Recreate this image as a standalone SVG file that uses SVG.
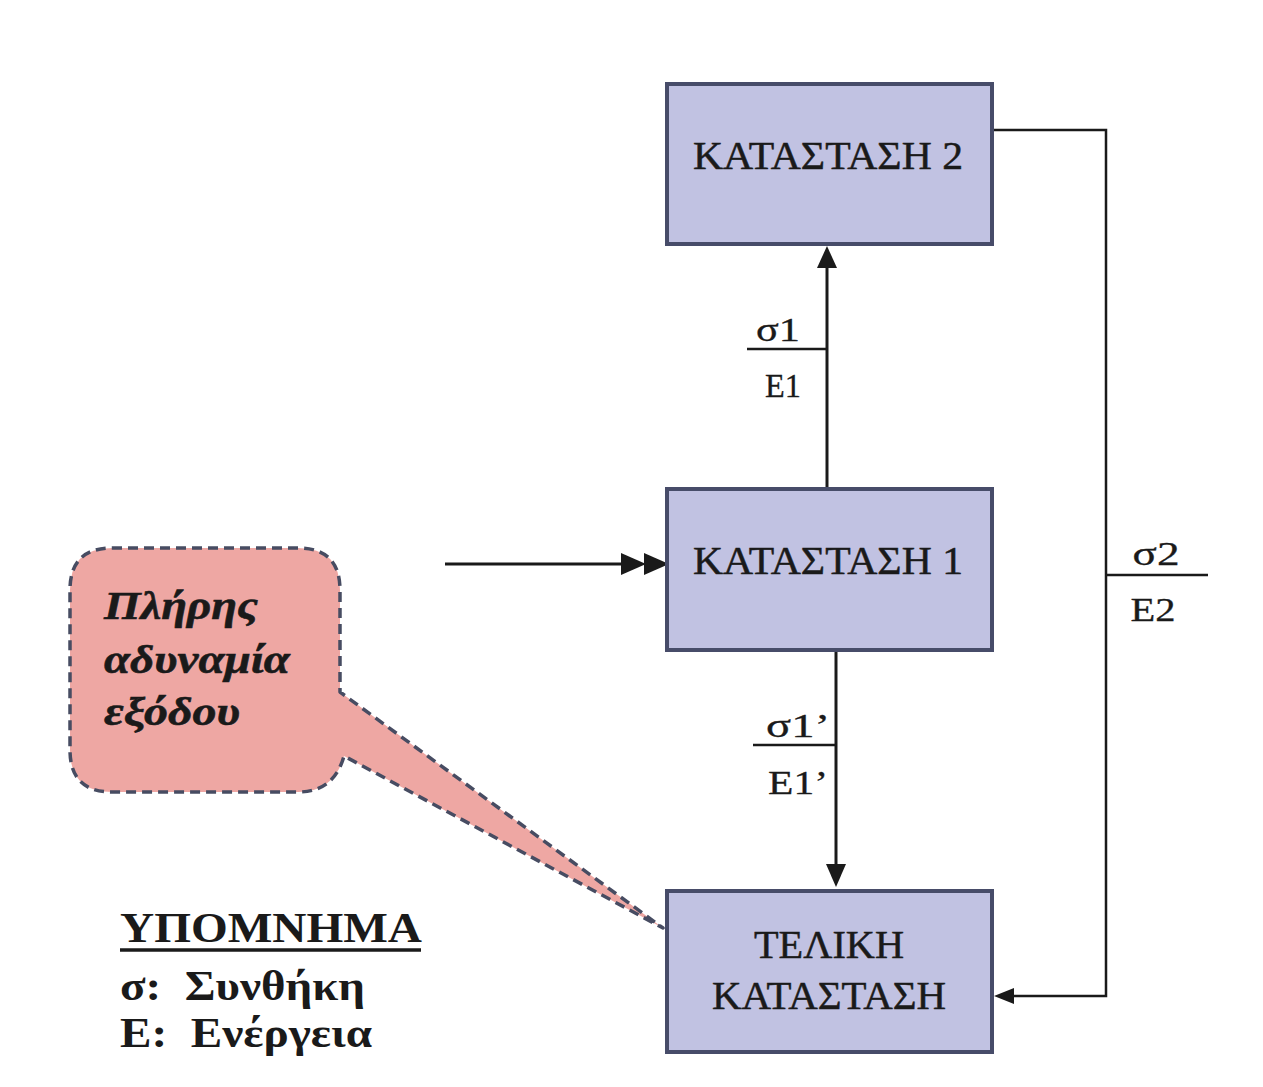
<svg xmlns="http://www.w3.org/2000/svg" width="1263" height="1087" viewBox="0 0 1263 1087">
  <style>
    .state { fill: #c1c2e2; stroke: #474c69; stroke-width: 4; }
    .stxt { font-family: "Liberation Serif", "DejaVu Serif", serif; font-size: 40px; fill: #1a1a1a; stroke: #1a1a1a; stroke-width: 0.5; text-anchor: middle; }
    .lbl { font-family: "Liberation Serif", "DejaVu Serif", serif; font-size: 33px; fill: #1a1a1a; stroke: #1a1a1a; stroke-width: 0.3; text-anchor: middle; }
    .wire { fill: none; stroke: #1a1a1a; stroke-width: 3; }
    .thin { fill: none; stroke: #1a1a1a; stroke-width: 2.5; }
    .note { fill: #eea7a3; stroke: #474c62; stroke-width: 3.5; stroke-dasharray: 10 6; stroke-linejoin: round; }
    .notetxt { font-family: "Liberation Serif", "DejaVu Serif", serif; font-size: 41px; font-weight: bold; font-style: italic; fill: #1a1a1a; stroke: #1a1a1a; stroke-width: 0.6; }
    .legend { font-family: "Liberation Serif", "DejaVu Serif", serif; font-size: 43px; font-weight: bold; fill: #1a1a1a; }
  </style>

  <rect width="1263" height="1087" fill="#ffffff"/>

  <!-- connectors -->
  <g id="connectors">
    <!-- state 1 -> state 2 -->
    <line class="wire" x1="827" y1="488" x2="827" y2="262"/>
    <path d="M817,268 L827,246 L837,268 Z" fill="#1a1a1a"/>
    <line class="thin" x1="747" y1="349" x2="827" y2="349"/>
    <text class="lbl" x="778" y="341" textLength="44" lengthAdjust="spacingAndGlyphs">σ1</text>
    <text class="lbl" x="783" y="397" textLength="36" lengthAdjust="spacingAndGlyphs">Ε1</text>

    <!-- state 1 -> final state -->
    <line class="wire" x1="836" y1="651" x2="836" y2="868"/>
    <path d="M826,864 L836,887 L846,864 Z" fill="#1a1a1a"/>
    <line class="thin" x1="753" y1="745" x2="836" y2="745"/>
    <text class="lbl" x="798" y="737" textLength="64" lengthAdjust="spacingAndGlyphs">σ1’</text>
    <text class="lbl" x="798" y="794" textLength="60" lengthAdjust="spacingAndGlyphs">Ε1’</text>

    <!-- state 2 -> final state (loop on the right) -->
    <polyline class="thin" points="992,130 1106,130 1106,996 1012,996"/>
    <path d="M1014,988 L994,996 L1014,1004 Z" fill="#1a1a1a"/>
    <line class="thin" x1="1106" y1="575" x2="1208" y2="575"/>
    <text class="lbl" x="1156" y="565" textLength="47" lengthAdjust="spacingAndGlyphs">σ2</text>
    <text class="lbl" x="1153" y="621" textLength="45" lengthAdjust="spacingAndGlyphs">Ε2</text>

    <!-- initial entry arrow -->
    <line class="wire" x1="445" y1="564" x2="625" y2="564"/>
    <path d="M621,553 L646,564 L621,575 Z" fill="#1a1a1a"/>
    <path d="M644,553 L669,564 L644,575 Z" fill="#1a1a1a"/>
  </g>

  <!-- states -->
  <g id="state2">
    <rect class="state" x="667" y="84" width="325" height="160"/>
    <text class="stxt" x="828" y="169" textLength="270" lengthAdjust="spacingAndGlyphs">ΚΑΤΑΣΤΑΣΗ 2</text>
  </g>
  <g id="state1">
    <rect class="state" x="667" y="489" width="325" height="161"/>
    <text class="stxt" x="828" y="574" textLength="270" lengthAdjust="spacingAndGlyphs">ΚΑΤΑΣΤΑΣΗ 1</text>
  </g>
  <g id="finalState">
    <rect class="state" x="667" y="891" width="325" height="161"/>
    <text class="stxt" x="829" y="958" textLength="150" lengthAdjust="spacingAndGlyphs">ΤΕΛΙΚΗ</text>
    <text class="stxt" x="829" y="1009" textLength="234" lengthAdjust="spacingAndGlyphs">ΚΑΤΑΣΤΑΣΗ</text>
  </g>

  <!-- callout -->
  <g id="callout">
    <path class="note" d="M112,548 H298 Q340,548 340,590 V692 L663,928 L344,756 Q334,792 298,792 H112 Q70,792 70,750 V590 Q70,548 112,548 Z"/>
    <text class="notetxt" x="104" y="619" textLength="154" lengthAdjust="spacingAndGlyphs">Πλήρης</text>
    <text class="notetxt" x="104" y="673" textLength="186" lengthAdjust="spacingAndGlyphs">αδυναμία</text>
    <text class="notetxt" x="104" y="725" textLength="136" lengthAdjust="spacingAndGlyphs">εξόδου</text>
  </g>

  <!-- legend -->
  <g id="legend">
    <text class="legend" x="120" y="942" textLength="302" lengthAdjust="spacingAndGlyphs">ΥΠΟΜΝΗΜΑ</text>
    <line x1="120" y1="950" x2="421" y2="950" stroke="#1a1a1a" stroke-width="3.5"/>
    <text class="legend" x="120" y="1000" xml:space="preserve" textLength="245" lengthAdjust="spacingAndGlyphs">σ:  Συνθήκη</text>
    <text class="legend" x="120" y="1047" xml:space="preserve" textLength="252" lengthAdjust="spacingAndGlyphs">Ε:  Ενέργεια</text>
  </g>
</svg>
